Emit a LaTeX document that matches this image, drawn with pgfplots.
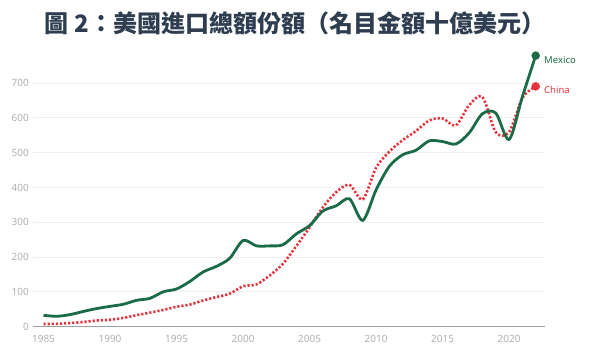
\documentclass[border=0pt]{standalone}
\usepackage{pgfplots}
\pgfplotsset{compat=1.18}
\usepackage{fontspec}
\setmainfont{Noto Sans}
\newfontfamily\cjk{Noto Sans CJK TC}
\definecolor{mxgreen}{HTML}{1B6B47}
\definecolor{cnred}{HTML}{E8333C}
\definecolor{titlec}{HTML}{2E3E50}
\definecolor{tickc}{HTML}{B0B0B0}
\definecolor{gridc}{HTML}{EEEEEE}
\begin{document}
\begin{tikzpicture}[x=1pt,y=1pt]
\path[use as bounding box] (0,0) rectangle (597,356);
\node[anchor=center, text=titlec, font=\cjk\bfseries\fontsize{24}{25}\selectfont] at (295,333) {圖 2：美國進口總額份額（名目金額十億美元）};
\begin{axis}[
  at={(33pt,29.3pt)}, anchor=south west,
  scale only axis, width=512pt, height=278.4pt,
  xmin=1984.21, xmax=2022.70, ymin=0, ymax=800,
  axis x line=bottom, axis y line=left,
  x axis line style={draw=gray!75, line width=1.4pt, -},
  y axis line style={draw=none},
  xtick={1985,1990,...,2020},
  ytick={0,100,...,700},
  xticklabel style={font=\fontsize{10}{10}\selectfont, text=tickc, anchor=north, inner sep=0pt, yshift=-8pt},
  yticklabel style={font=\fontsize{10}{10}\selectfont, text=tickc, anchor=east, inner sep=0pt, xshift=-4pt},
  /pgf/number format/assume math mode=true,
  /pgf/number format/1000 sep={},
  major tick length=0pt,
  tick style={draw=none},
  ymajorgrids, grid style={draw=gridc, line width=1pt},
  clip=false,
]
\addplot[cnred, line width=2.6pt, dash pattern=on 2.2pt off 1.9pt, smooth, tension=0.5] coordinates {
(1985,7.7)(1986,8.3)(1987,10.4)(1988,13.5)(1989,17.8)(1990,20.0)(1991,25.3)(1992,33.1)(1993,40.3)(1994,48.1)
(1995,57.3)(1996,63.5)(1997,75.4)(1998,85.4)(1999,94.9)(2000,116.2)(2001,121.5)(2002,147.2)(2003,180.8)(2004,231.4)
(2005,285.3)(2006,343.0)(2007,386.7)(2008,407.5)(2009,365.9)(2010,456.8)(2011,503.2)(2012,536.2)(2013,562.2)(2014,592.7)
(2015,598.1)(2016,578.6)(2017,636.7)(2018,659.8)(2019,558.9)(2020,559.2)(2021,657.4)(2022,690.6)};
\addplot[mxgreen, line width=2.8pt, smooth, tension=0.5] coordinates {
(1985,32.7)(1986,29.9)(1987,34.8)(1988,43.9)(1989,52.2)(1990,58.4)(1991,64.5)(1992,75.8)(1993,81.5)(1994,100.3)
(1995,108.4)(1996,130.0)(1997,157.3)(1998,173.4)(1999,196.6)(2000,247.6)(2001,232.4)(2002,232.2)(2003,235.5)(2004,266.6)
(2005,290.5)(2006,332.3)(2007,347.3)(2008,367.4)(2009,305.5)(2010,393.0)(2011,461.0)(2012,494.0)(2013,507.0)(2014,534.0)
(2015,532.0)(2016,525.0)(2017,557.0)(2018,612.0)(2019,614.0)(2020,538.0)(2021,661.0)(2022,779.0)};
\addplot[only marks, mark=*, mark size=4pt, color=cnred,
  nodes near coords={China}, every node near coord/.style={anchor=west, xshift=5pt, yshift=-4pt, text=cnred, font=\fontsize{9.5}{10}\selectfont}]
  coordinates {(2022,690.6)};
\addplot[only marks, mark=*, mark size=4pt, color=mxgreen,
  nodes near coords={Mexico}, every node near coord/.style={anchor=west, xshift=5pt, yshift=-4pt, text=mxgreen, font=\fontsize{9.5}{10}\selectfont\bfseries}]
  coordinates {(2022,779)};
\end{axis}
\end{tikzpicture}
\end{document}
